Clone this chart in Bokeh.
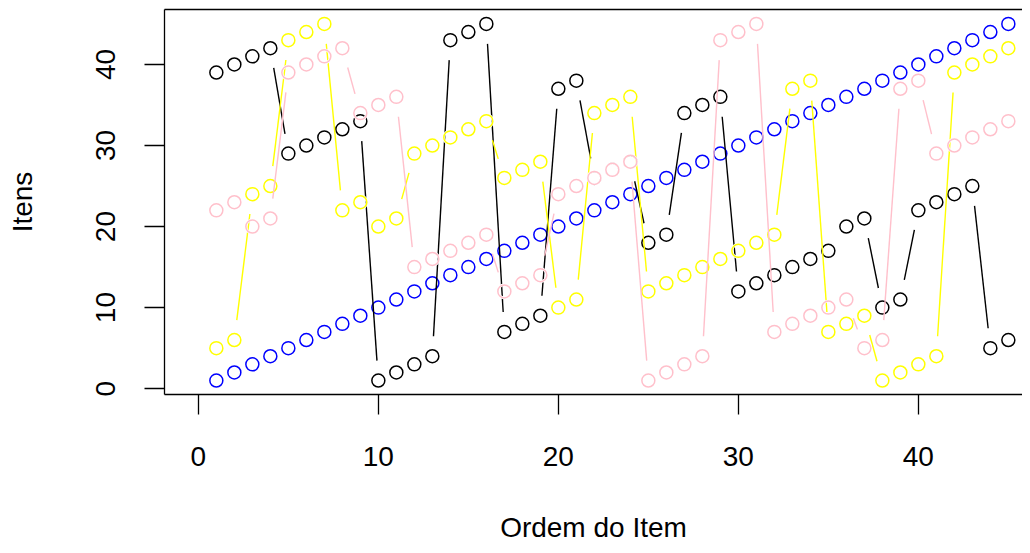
import numpy as np
from bokeh.plotting import figure
from bokeh.models import LinearAxis, FixedTicker, Range1d
from bokeh.embed import file_html
from bokeh.resources import INLINE

# ---- data ----
ordem = list(range(1, 46))
azul = list(range(1, 46))
preto = [39, 40, 41, 42, 29, 30, 31, 32, 33, 1, 2, 3, 4, 43, 44, 45, 7, 8, 9, 37, 38,
         26, 27, 28, 18, 19, 34, 35, 36, 12, 13, 14, 15, 16, 17, 20, 21, 10, 11,
         22, 23, 24, 25, 5, 6]
amarelo = [5, 6, 24, 25, 43, 44, 45, 22, 23, 20, 21, 29, 30, 31, 32, 33, 26, 27, 28,
           10, 11, 34, 35, 36, 12, 13, 14, 15, 16, 17, 18, 19, 37, 38, 7, 8, 9,
           1, 2, 3, 4, 39, 40, 41, 42]
rosa = [22, 23, 20, 21, 39, 40, 41, 42, 34, 35, 36, 15, 16, 17, 18, 19, 12, 13, 14,
        24, 25, 26, 27, 28, 1, 2, 3, 4, 43, 44, 45, 7, 8, 9, 10, 11, 5, 6, 37, 38,
        29, 30, 31, 32, 33]
x_ticks = [0, 10, 20, 30, 40]
y_ticks = [0, 10, 20, 30, 40]

series = [(azul, "#0000FF"), (preto, "#000000"), (amarelo, "#FFFF00"), (rosa, "#FFC0CB")]

W, H = 1022, 545
ML, MT, MB = 164, 9, 151
x0 = -1.88
x1 = x0 + (W - ML) / 18.0
y0, y1 = -0.72, 46.78

p = figure(width=W, height=H, output_backend="svg", toolbar_location=None,
           x_range=Range1d(x0, x1), y_range=Range1d(y0, y1),
           x_axis_location=None, y_axis_location=None,
           min_border_left=ML, min_border_right=0, min_border_top=MT,
           min_border_bottom=MB)
p.grid.visible = False
p.outline_line_color = None
p.background_fill_color = "white"

FONT = "Liberation Sans"
FS = "28px"

xa = LinearAxis(ticker=FixedTicker(ticks=x_ticks), axis_label="Ordem do Item")
ya = LinearAxis(ticker=FixedTicker(ticks=y_ticks), axis_label="Itens")
for ax in (xa, ya):
    ax.axis_line_color = "black"
    ax.axis_line_width = 1.3
    ax.major_tick_line_color = "black"
    ax.major_tick_line_width = 1.3
    ax.major_tick_out = 20
    ax.major_tick_in = 0
    ax.minor_tick_out = 0
    ax.minor_tick_in = 0
    ax.major_label_text_font = FONT
    ax.major_label_text_font_size = FS
    ax.major_label_text_color = "black"
    ax.axis_label_text_font = FONT
    ax.axis_label_text_font_size = FS
    ax.axis_label_text_font_style = "normal"
    ax.axis_label_text_color = "black"
xa.major_label_standoff = 32
xa.axis_label_standoff = 43
ya.major_label_orientation = "vertical"
ya.major_label_standoff = 29
ya.axis_label_standoff = 56
p.add_layout(xa, "below")
p.add_layout(ya, "left")

top = LinearAxis(ticker=FixedTicker(ticks=[]))
top.axis_line_color = "black"
top.axis_line_width = 1.3
top.major_tick_out = 0
top.minor_tick_out = 0
top.major_label_text_font_size = "0px"
top.major_label_standoff = 0
p.add_layout(top, "above")

# pixel scales used to leave R-style gaps around points (type = "b")
frame_w = W - ML
frame_h = H - MT - MB
sx = frame_w / (x1 - x0)
sy = frame_h / (y1 - y0)
GAP = 20.0

for vals, col in series:
    xs = np.array(ordem, dtype=float)
    ys = np.array(vals, dtype=float)
    sx0, sy0, sx1, sy1 = [], [], [], []
    for i in range(len(xs) - 1):
        dxp = (xs[i + 1] - xs[i]) * sx
        dyp = (ys[i + 1] - ys[i]) * sy
        d = np.hypot(dxp, dyp)
        if d > 2 * GAP:
            ux, uy = dxp / d, dyp / d
            sx0.append(xs[i] + GAP * ux / sx)
            sy0.append(ys[i] + GAP * uy / sy)
            sx1.append(xs[i + 1] - GAP * ux / sx)
            sy1.append(ys[i + 1] - GAP * uy / sy)
    p.segment(sx0, sy0, sx1, sy1, line_color=col, line_width=1.4)
    # white ring so a later circle fully covers an earlier one at the same spot
    p.scatter(xs, ys, marker="circle", size=13, fill_color=None,
              line_color="white", line_width=2.8)
    p.scatter(xs, ys, marker="circle", size=13, fill_color=None,
              line_color=col, line_width=1.5)

open("out.html", "w").write(file_html(p, INLINE))
